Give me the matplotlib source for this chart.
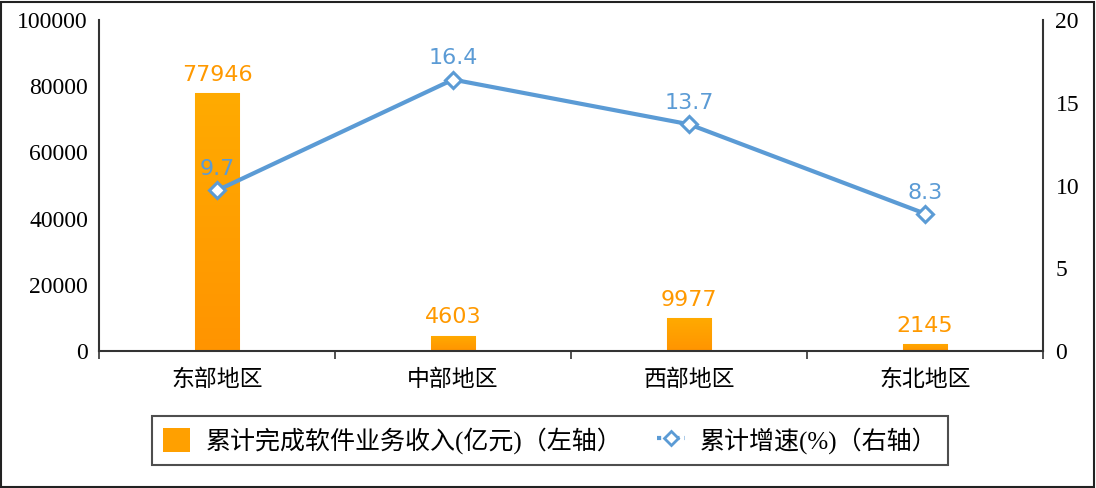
import matplotlib
matplotlib.use("Agg")
import matplotlib.pyplot as plt
import numpy as np
from matplotlib.patches import Rectangle
from matplotlib.colors import LinearSegmentedColormap
from matplotlib.lines import Line2D
from matplotlib.patches import Patch

plt.rcParams['font.family'] = ['Liberation Serif', 'Noto Sans CJK SC']

# data
regions = ['东部地区', '中部地区', '西部地区', '东北地区']
revenue = [77946, 4603, 9977, 2145]      # 亿元
growth = [9.7, 16.4, 13.7, 8.3]          # %
left_ticks = [0, 20000, 40000, 60000, 80000, 100000]
right_ticks = [0, 5, 10, 15, 20]

orange = '#FF9900'
blue = '#5B9BD5'
axis_col = '#333333'

fig = plt.figure(figsize=(10.96, 4.88), dpi=100)
ax = fig.add_axes([99 / 1096, 1 - 351 / 488, (1043 - 99) / 1096, 331 / 488])
ax2 = ax.twinx()

x = np.arange(len(regions))
bars = ax.bar(x, revenue, width=0.19, color=orange, edgecolor='#FFD27F', linewidth=0.8, zorder=2)

# vertical gradient inside each bar
cmap = LinearSegmentedColormap.from_list('org', ['#FF9400', '#FFAB00'])
grad = np.linspace(0, 1, 256).reshape(-1, 1)
for b in bars:
    x0, y0, w, h = b.get_x(), b.get_y(), b.get_width(), b.get_height()
    im = ax.imshow(grad, extent=[x0, x0 + w, y0, y0 + h], origin='lower', cmap=cmap,
                   aspect='auto', zorder=2.5)
    im.set_clip_path(b)

for xi, v in zip(x, revenue):
    ax.annotate(str(v), (xi, v), xytext=(0, 6), textcoords='offset points',
                ha='center', va='bottom', color=orange, fontsize=16, family='DejaVu Sans')

ax.set_xlim(-0.5, 3.5)
ax.set_ylim(0, 100000)
ax.set_yticks(left_ticks)
ax.set_xticks(x)
ax.set_xticklabels(regions, fontsize=16.5, family=['Noto Sans CJK SC'])
ax.set_xticks([-0.5, 0.5, 1.5, 2.5, 3.5], minor=True)
ax.tick_params(axis='x', which='major', length=0, pad=12)
ax.tick_params(axis='x', which='minor', length=6, width=1.2, color=axis_col, direction='out')
ax.tick_params(axis='y', length=0, pad=8, labelsize=17)
for s in ['left', 'bottom']:
    ax.spines[s].set_color(axis_col)
    ax.spines[s].set_linewidth(1.5)
ax.spines['top'].set_visible(False)
ax.spines['right'].set_visible(False)

ax2.plot(x, growth, color=blue, linewidth=3, marker='D', markersize=8,
         markerfacecolor='white', markeredgecolor=blue, markeredgewidth=2.2, zorder=3)
for xi, g in zip(x, growth):
    ax2.annotate(f'{g}', (xi, g), xytext=(0, 8), textcoords='offset points',
                 ha='center', va='bottom', color=blue, fontsize=16, family='DejaVu Sans')
ax2.set_ylim(0, 20)
ax2.set_yticks(right_ticks)
ax2.tick_params(axis='y', length=0, pad=9, labelsize=17)
ax2.spines['right'].set_color(axis_col)
ax2.spines['right'].set_linewidth(1.5)
for s in ['top', 'left', 'bottom']:
    ax2.spines[s].set_visible(False)

# legend
h1 = Patch(facecolor='#FFA000', edgecolor='none')
h2 = Line2D([], [], color=blue, linewidth=3, linestyle=(0, (1, 1.2)), marker='D', markersize=7,
            markerfacecolor='white', markeredgecolor=blue, markeredgewidth=2)
leg = fig.legend([h1, h2], ['累计完成软件业务收入(亿元)（左轴）', '累计增速(%)（右轴）'],
                 loc='center', bbox_to_anchor=(550 / 1096, 1 - 440.5 / 488), ncol=2,
                 fontsize=18, frameon=True, fancybox=False, edgecolor='#222222',
                 handlelength=1.1, handleheight=1.1, columnspacing=1.4, borderpad=0.45,
                 handletextpad=0.6)
leg.get_frame().set_linewidth(1.5)

# outer frame
fig.patches.append(Rectangle((1 / 1096, 1 / 488), 1093 / 1096, 485 / 488, transform=fig.transFigure,
                             fill=False, edgecolor='#222222', linewidth=1.5))

fig.savefig('out.png', dpi=100)
